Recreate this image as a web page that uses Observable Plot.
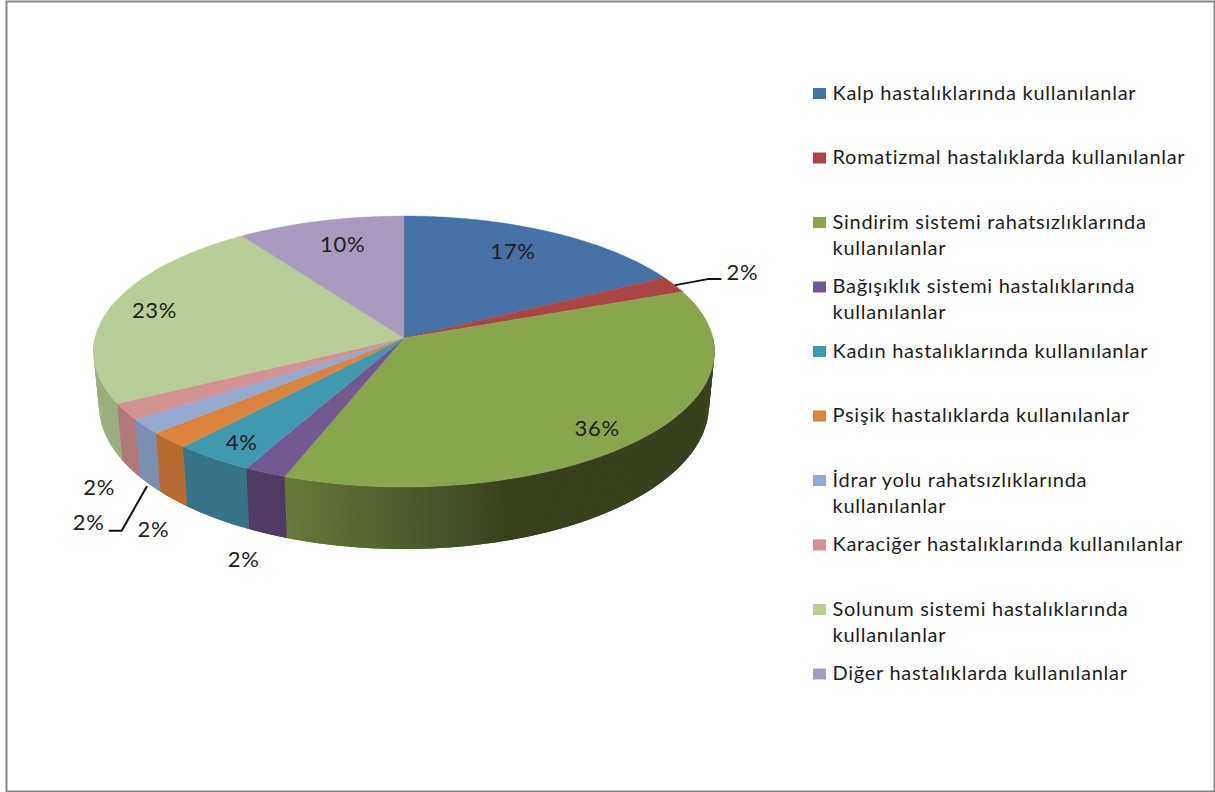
<!DOCTYPE html>
<html lang="tr">
<head>
<meta charset="utf-8">
<title>Hastalık gruplarına göre kullanım</title>
<style>
  html, body { margin: 0; padding: 0; background: #fff; overflow: hidden; }
  svg { display: block; }
  svg text { letter-spacing: 0.72px; }
</style>
<script src="https://cdn.jsdelivr.net/npm/d3@7"></script>
<script src="https://cdn.jsdelivr.net/npm/@observablehq/plot@0.6"></script>
</head>
<body>
<div id="chart"></div>
<script>
// ---- data ----
const categories = [
  "Kalp hastalıklarında kullanılanlar",
  "Romatizmal hastalıklarda kullanılanlar",
  "Sindirim sistemi rahatsızlıklarında kullanılanlar",
  "Bağışıklık sistemi hastalıklarında kullanılanlar",
  "Kadın hastalıklarında kullanılanlar",
  "Psişik hastalıklarda kullanılanlar",
  "İdrar yolu rahatsızlıklarında kullanılanlar",
  "Karaciğer hastalıklarında kullanılanlar",
  "Solunum sistemi hastalıklarında kullanılanlar",
  "Diğer hastalıklarda kullanılanlar"
];
const shares = [17.2, 2.0, 36.5, 2.0, 3.8, 2.0, 1.8, 2.0, 23.1, 9.6];
const shareLabels = ["17%", "2%", "36%", "2%", "4%", "2%", "2%", "2%", "23%", "10%"];

// ---- styles ----
const topColours  = ["#4571a6","#a94543","#89a54e","#71588f","#4198af","#db843d","#93a9cf","#d19392","#b9cd96","#a99bbd"];
const wallColours = ["#34547c","#7e3432","#667a3a","#513a63","#357388","#b56c30","#7c8db0","#ad7a79","#9cae7e","#7e7390"];
const greenWall = d3.scaleLinear().domain([284, 400, 513]).range(["#667a3a", "#4f602c", "#37411d"]).clamp(true);
const font = "Lato, 'Noto Sans', sans-serif";
const ink = "#1e1e1e";

// ---- layout ----
const W = 1215, H = 792;
const topEllipse = {cx: 404, cy: 351.5, rx: 310.5, ry: 135.5};
const baseEllipse = {cx: 404, cy: 405, rx: 305, ry: 144};
const apex = {x: 404, y: 338};
const tilt = (topEllipse.cy - apex.y) / topEllipse.ry;        // perspective shift of the pie's centre
// label offset from the rim point in the middle of each slice
const labelOffsets = [[-38,19],[68,-12.5],[-43,-11],[-22,86.5],[28,-15.6],[-16,89],[-57,96],[-27,76],[43,3.5],[22,23]];
const leaderSlices = [
  {slice: 1, path: [[1,0],[33,-6],[46,-6]]},
  {slice: 6, path: [[1,60],[-24,104],[-36,104]]}
];
const legendLeft = 832, legendTop = 80.5, legendStep = 64.5;

// share (0..100, clockwise from the top) -> point of an ellipse, seen in perspective
function rim(v, e) {
  const a = v * 3.6 * Math.PI / 180, c = Math.cos(a), s = Math.sin(a), d = 1 + tilt * c;
  return {
    x: e.cx + e.rx * s * Math.sqrt(1 - tilt * tilt) / d,
    y: e.cy - e.ry * (c + tilt) / d,
    front: (c + tilt) / d < 0.1
  };
}

let acc = 0;
const slices = shares.map((v, i) => {
  const s = {i, name: categories[i], start: acc, end: acc + v, mid: acc + v / 2, label: shareLabels[i]};
  acc += v;
  return s;
});

const topRows = [], wallRows = [];
for (const s of slices) {
  const n = Math.max(2, Math.ceil((s.end - s.start) / 0.2));
  const step = (s.end - s.start) / n;
  const vs = d3.range(n + 1).map(k => s.start + step * k);
  for (const v of vs) {
    const p = rim(v, topEllipse);
    topRows.push({x1: apex.x, y1: apex.y, x2: p.x, y2: p.y, z: s.i, fill: topColours[s.i]});
  }
  for (let k = 0; k < n; ++k) {
    // each strip reaches under the next one, so that no seams show
    const p0 = rim(vs[k], topEllipse), p1 = rim(vs[k] + 2 * step, topEllipse);
    if (!p0.front && !p1.front) continue;
    const b0 = rim(vs[k], baseEllipse), b1 = rim(vs[k] + 2 * step, baseEllipse);
    const fill = s.i === 2 ? d3.color(greenWall(p0.x)).formatHex() : wallColours[s.i];
    const z = s.i + "-" + k;
    wallRows.push({x1: p0.x, y1: p0.y, x2: b0.x, y2: b0.y, z, fill});
    wallRows.push({x1: p1.x, y1: p1.y, x2: b1.x, y2: b1.y, z, fill});
  }
}

const labelRows = slices.map(s => {
  const p = rim(s.mid, topEllipse), o = labelOffsets[s.i];
  return {x: p.x + o[0], y: p.y + o[1], text: s.label};
});

const leaderRows = leaderSlices.flatMap(l => {
  const p = rim(slices[l.slice].mid, topEllipse);
  return l.path.map(o => ({x: p.x + o[0], y: p.y + o[1], z: l.slice}));
});

const wrap = t => t.length > 39 ? t.replace(/ (\S+)$/, "\n$1") : t;
const legendRows = slices.map(s => ({
  top: legendTop + legendStep * s.i,
  text: wrap(s.name),
  fill: topColours[s.i]
}));

const chart = Plot.plot({
  width: W,
  height: H,
  margin: 0,
  x: {domain: [0, W], range: [0, W], axis: null},
  y: {domain: [0, H], range: [0, H], axis: null},
  color: {type: "identity"},
  style: {background: "#fff", fontFamily: font},
  marks: [
    Plot.frame({stroke: "#868686", strokeWidth: 2, insetLeft: 6, insetTop: 1, insetRight: 1, insetBottom: 1}),
    Plot.area(wallRows, {x1: "x1", y1: "y1", x2: "x2", y2: "y2", z: "z", fill: "fill"}),
    Plot.area(topRows, {x1: "x1", y1: "y1", x2: "x2", y2: "y2", z: "z", fill: "fill", stroke: "fill", strokeWidth: 0.4}),
    Plot.line(leaderRows, {x: "x", y: "y", z: "z", stroke: "#111", strokeWidth: 2, curve: "linear"}),
    Plot.text(labelRows, {x: "x", y: "y", text: "text", fontSize: 22, fill: ink, textAnchor: "middle", lineAnchor: "middle"}),
    Plot.rect(legendRows, {x1: () => legendLeft - 19, x2: () => legendLeft - 6, y1: d => d.top + 7.5, y2: d => d.top + 18.5, fill: "fill"}),
    Plot.text(legendRows, {x: () => legendLeft, y: d => d.top + 0.5, text: "text", fontSize: 20, lineHeight: 1.3, fill: ink, textAnchor: "start", lineAnchor: "top"})
  ]
});
document.getElementById("chart").append(chart);
</script>
</body>
</html>
